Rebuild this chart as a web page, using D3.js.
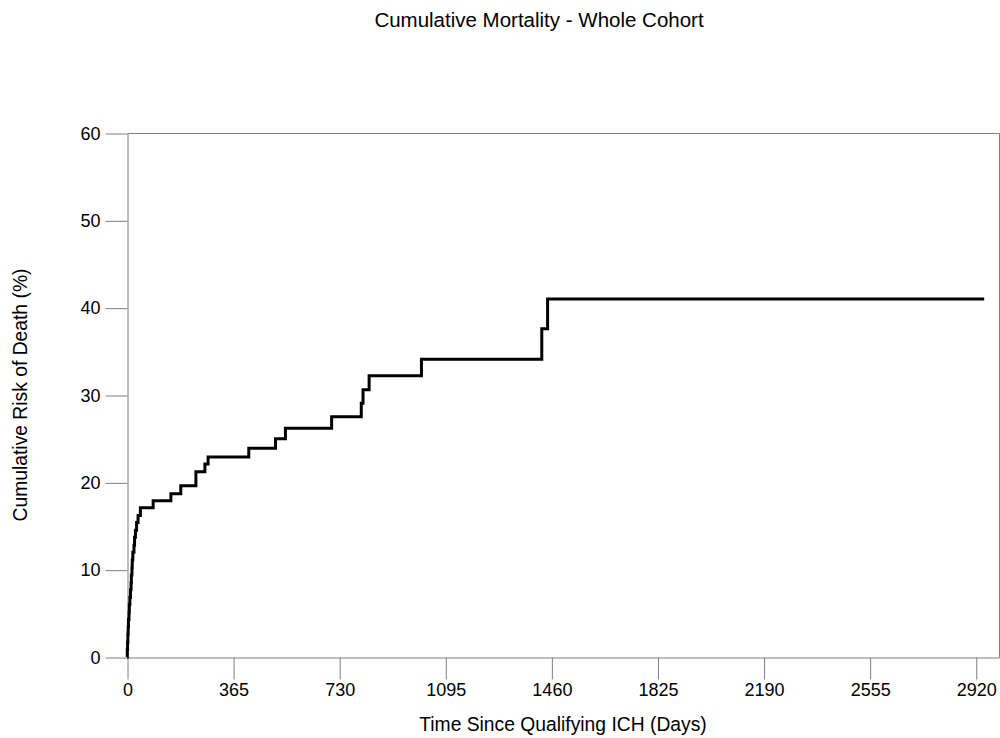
<!DOCTYPE html>
<html>
<head>
<meta charset="utf-8">
<script src="https://cdn.jsdelivr.net/npm/d3@7"></script>
<style>
  html, body { margin: 0; padding: 0; background: #fff; }
  svg { display: block; }
  text { font-family: "Liberation Sans", Arial, Helvetica, sans-serif; fill: #000; }
</style>
</head>
<body>
<svg id="chart" width="1000" height="738"></svg>
<script>
// ---- Data ----
const days = [0, 1, 2, 3, 4, 5, 7, 8, 10, 12, 14, 15, 17, 18, 20, 24, 26, 29, 33, 38, 46,
              90, 151, 185, 237, 268, 279, 419, 511, 545, 704, 806, 812, 833, 1013, 1427, 1447, 2949];
const risk = [0, 0.85, 1.7, 2.6, 3.4, 4.3, 5.1, 6.0, 6.8, 7.7, 8.5, 9.4, 10.2, 11.1, 12.0, 12.8, 13.7, 14.5, 15.4, 16.2, 17.1,
              17.9, 18.7, 19.6, 21.2, 22.1, 22.9, 23.9, 25.0, 26.2, 27.5, 29.05, 30.6, 32.2, 34.1, 37.6, 41.0, 41.0];
const xTicks = [0, 365, 730, 1095, 1460, 1825, 2190, 2555, 2920];
const yTicks = [0, 10, 20, 30, 40, 50, 60];
const titleText = "Cumulative Mortality - Whole Cohort";
const xTitle = "Time Since Qualifying ICH (Days)";
const yTitle = "Cumulative Risk of Death (%)";

(function () {
const svg = d3.select("#chart");
const mLeft = 127, mRight = 999, mTop = 133, mBottom = 657;
const axisColor = "#7f7f7f";

const x = d3.scaleLinear().domain([0, 3000]).range([mLeft, mRight]);
const y = d3.scaleLinear().domain([0, 60]).range([mBottom, mTop]);

// frame (top and right borders)
svg.append("path")
  .attr("d", `M${mLeft + 0.5},${mTop + 0.5}H${mRight + 0.5}V${mBottom + 0.5}`)
  .attr("fill", "none").attr("stroke", axisColor).attr("stroke-width", 1);

// x axis
const xAxis = d3.axisBottom(x).tickValues(xTicks).tickFormat(d3.format("d"))
  .tickSize(22).tickPadding(4).tickSizeOuter(0);
const gx = svg.append("g").attr("transform", `translate(0.5,${mBottom + 0.5})`).call(xAxis);
gx.select(".domain").attr("stroke", axisColor);
gx.selectAll(".tick line").attr("stroke", axisColor);
gx.selectAll(".tick text").attr("font-size", 18).attr("fill", "#000")
  .style("font-family", "'Liberation Sans', Arial, sans-serif");

// y axis
const yAxis = d3.axisLeft(y).tickValues(yTicks).tickFormat(d3.format("d"))
  .tickSize(22).tickPadding(5).tickSizeOuter(0);
const gy = svg.append("g").attr("transform", `translate(${mLeft + 0.5},0.5)`).call(yAxis);
gy.select(".domain").attr("stroke", axisColor);
gy.selectAll(".tick line").attr("stroke", axisColor);
gy.selectAll(".tick text").attr("font-size", 18).attr("fill", "#000")
  .style("font-family", "'Liberation Sans', Arial, sans-serif");

// curve
const line = d3.line().x((d, i) => x(days[i])).y((d, i) => y(risk[i])).curve(d3.curveStepAfter);
svg.append("path")
  .datum(days)
  .attr("d", line)
  .attr("fill", "none")
  .attr("stroke", "#000")
  .attr("stroke-width", 3)
  .attr("stroke-linejoin", "miter")
  .attr("stroke-linecap", "butt");

// titles
svg.append("text").attr("x", 539).attr("y", 27).attr("text-anchor", "middle")
  .attr("font-size", 20.5).text(titleText);
svg.append("text").attr("x", (mLeft + mRight) / 2).attr("y", 731).attr("text-anchor", "middle")
  .attr("font-size", 19.3).text(xTitle);
svg.append("text").attr("transform", `translate(27,${(mTop + mBottom) / 2}) rotate(-90)`)
  .attr("text-anchor", "middle").attr("font-size", 19.3).text(yTitle);
})();
</script>
</body>
</html>
